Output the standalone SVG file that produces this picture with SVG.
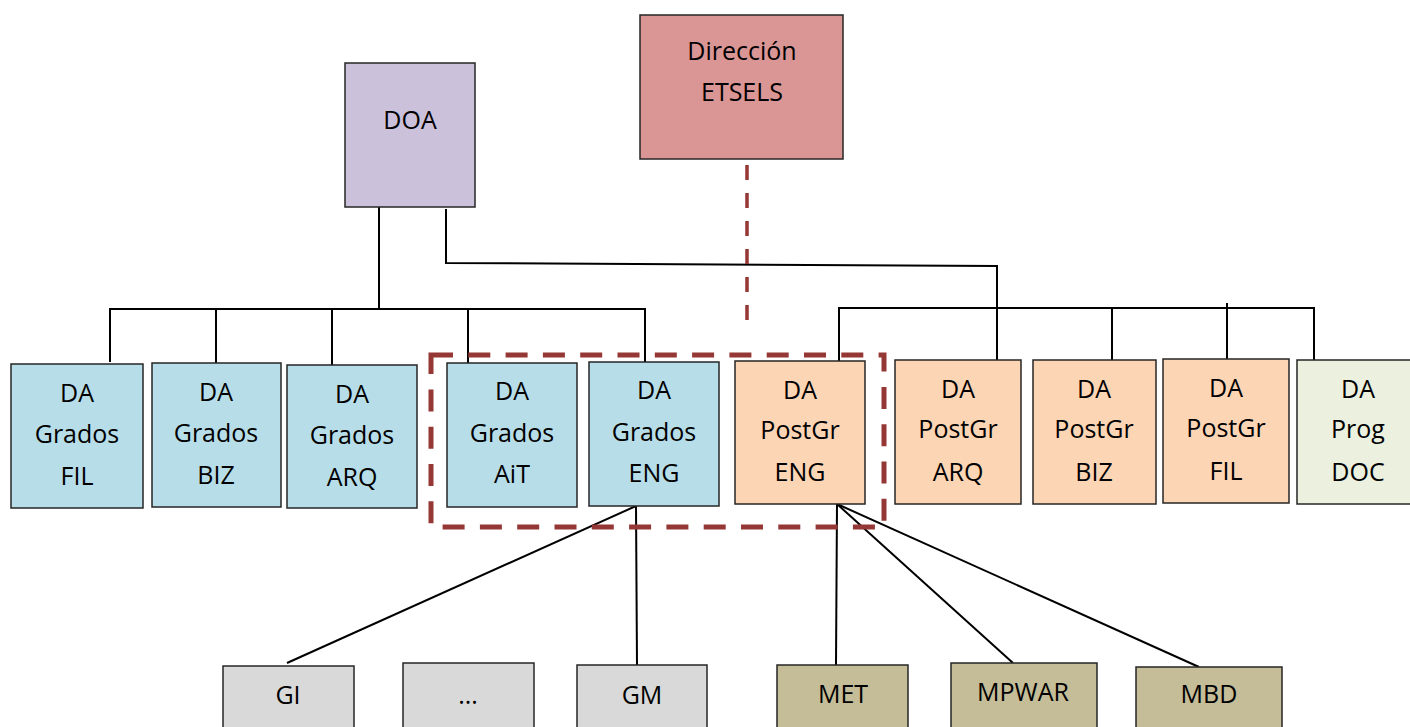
<svg xmlns="http://www.w3.org/2000/svg" width="1410" height="727" viewBox="0 0 1410 727">
<style>
.box{stroke:#262626;stroke-width:1.5}
.blue{fill:#B7DEE8}
.peach{fill:#FCD5B5}
.green{fill:#EBF1DE}
.grey{fill:#D9D9D9}
.tan{fill:#C4BD97}
.lbl{font-family:"Open Sans","Liberation Sans",sans-serif;font-size:25px;fill:#000;text-anchor:middle}
.ln{stroke:#000;stroke-width:2;fill:none}
.dash{stroke:#953735;fill:none}
</style>
<rect width="1410" height="727" fill="#fff"/>
<g id="connectors">
<polyline class="ln" points="379,207 379,309"/>
<polyline class="ln" points="110,362 110,309 645,309 645,362"/>
<line class="ln" x1="216" y1="309" x2="216" y2="363"/>
<line class="ln" x1="332" y1="309" x2="332" y2="365"/>
<line class="ln" x1="468" y1="309" x2="468" y2="363"/>
<polyline class="ln" points="446,209 446,263 997,266 997,360"/>
<polyline class="ln" points="839,361 839,308 1314,308 1314,360"/>
<line class="ln" x1="1112" y1="308" x2="1112" y2="360"/>
<line class="ln" x1="1227" y1="303" x2="1227" y2="359"/>
<line class="ln" x1="636" y1="506" x2="287" y2="663"/>
<line class="ln" x1="636" y1="506" x2="637" y2="665"/>
<line class="ln" x1="837" y1="504" x2="836" y2="665"/>
<line class="ln" x1="837" y1="504" x2="1013" y2="663"/>
<line class="ln" x1="837" y1="504" x2="1199" y2="667"/>
<line class="dash" x1="747" y1="165" x2="747" y2="320" stroke-width="3.5" stroke-dasharray="15 13"/>
<path class="dash" d="M431,355 H884 V527 H431 Z" stroke-width="5" stroke-dasharray="22 15.3"/>
</g>
<g id="doa"><rect class="box" x="345" y="63" width="130" height="144" fill="#CCC1DA"/><text class="lbl" x="410" y="129">DOA</text></g>
<g id="direccion"><rect class="box" x="640" y="15" width="203" height="144" fill="#DA9694"/><text class="lbl" x="742" y="60">Dirección</text><text class="lbl" x="742" y="101">ETSELS</text></g>
<g id="grados-fil"><rect class="box blue" x="11" y="364" width="132" height="144"/><text class="lbl" x="77" y="402">DA</text><text class="lbl" x="77" y="443">Grados</text><text class="lbl" x="77" y="485">FIL</text></g>
<g id="grados-biz"><rect class="box blue" x="152" y="363" width="129" height="144"/><text class="lbl" x="216" y="401">DA</text><text class="lbl" x="216" y="442">Grados</text><text class="lbl" x="216" y="484">BIZ</text></g>
<g id="grados-arq"><rect class="box blue" x="287" y="365" width="130" height="143"/><text class="lbl" x="352" y="403">DA</text><text class="lbl" x="352" y="444">Grados</text><text class="lbl" x="352" y="486">ARQ</text></g>
<g id="grados-ait"><rect class="box blue" x="447" y="363" width="130" height="144"/><text class="lbl" x="512" y="400">DA</text><text class="lbl" x="512" y="442">Grados</text><text class="lbl" x="512" y="483">AiT</text></g>
<g id="grados-eng"><rect class="box blue" x="589" y="362" width="130" height="144"/><text class="lbl" x="654" y="399">DA</text><text class="lbl" x="654" y="441">Grados</text><text class="lbl" x="654" y="482">ENG</text></g>
<g id="postgr-eng"><rect class="box peach" x="735" y="361" width="130" height="143"/><text class="lbl" x="800" y="399">DA</text><text class="lbl" x="800" y="439">PostGr</text><text class="lbl" x="800" y="481">ENG</text></g>
<g id="postgr-arq"><rect class="box peach" x="895" y="360" width="126" height="144"/><text class="lbl" x="958" y="398">DA</text><text class="lbl" x="958" y="438">PostGr</text><text class="lbl" x="958" y="481">ARQ</text></g>
<g id="postgr-biz"><rect class="box peach" x="1033" y="360" width="123" height="144"/><text class="lbl" x="1094" y="398">DA</text><text class="lbl" x="1094" y="438">PostGr</text><text class="lbl" x="1094" y="481">BIZ</text></g>
<g id="postgr-fil"><rect class="box peach" x="1163" y="359" width="126" height="144"/><text class="lbl" x="1226" y="397">DA</text><text class="lbl" x="1226" y="437">PostGr</text><text class="lbl" x="1226" y="480">FIL</text></g>
<g id="prog-doc"><rect class="box green" x="1297" y="360" width="124" height="144"/><text class="lbl" x="1358" y="398">DA</text><text class="lbl" x="1358" y="438">Prog</text><text class="lbl" x="1358" y="481">DOC</text></g>
<g id="gi"><rect class="box grey" x="223" y="666" width="131" height="70"/><text class="lbl" x="288" y="704">GI</text></g>
<g id="dots"><rect class="box grey" x="403" y="663" width="131" height="73"/><text class="lbl" x="468" y="704">...</text></g>
<g id="gm"><rect class="box grey" x="577" y="665" width="130" height="71"/><text class="lbl" x="642" y="704">GM</text></g>
<g id="met"><rect class="box tan" x="777" y="665" width="131" height="71"/><text class="lbl" x="843" y="703">MET</text></g>
<g id="mpwar"><rect class="box tan" x="951" y="663" width="146" height="73"/><text class="lbl" x="1023" y="701">MPWAR</text></g>
<g id="mbd"><rect class="box tan" x="1136" y="667" width="146" height="69"/><text class="lbl" x="1209" y="703">MBD</text></g>
</svg>
